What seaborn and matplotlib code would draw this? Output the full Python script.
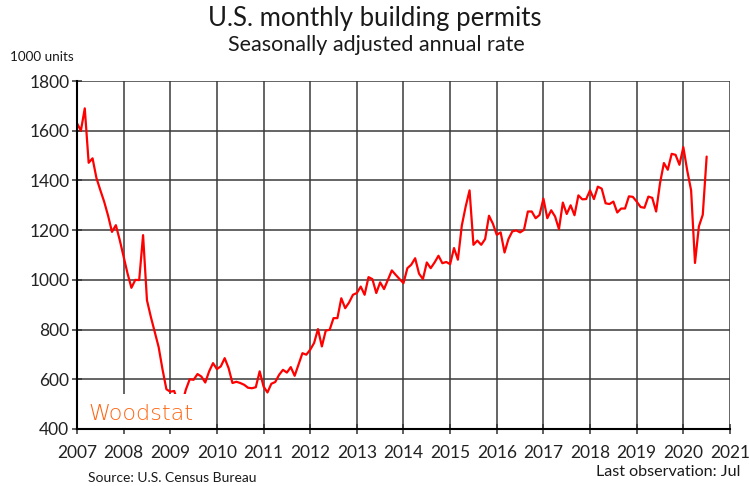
import matplotlib
matplotlib.use("Agg")
import matplotlib.pyplot as plt
from matplotlib.patches import Rectangle
import seaborn as sns
import numpy as np
import pandas as pd

# monthly permits, 1000 units SAAR, Jan..Dec
p2007 = [1630, 1600, 1690, 1471, 1489, 1410, 1361, 1314, 1258, 1193, 1220, 1160]
p2008 = [1093, 1026, 968, 1000, 999, 1180, 918, 851, 791, 730, 640, 560]
p2009 = [550, 553, 505, 500, 558, 600, 598, 621, 611, 587, 632, 665]
p2010 = [641, 652, 685, 645, 585, 590, 585, 578, 566, 564, 568, 632]
p2011 = [571, 547, 582, 589, 618, 638, 627, 649, 614, 660, 705, 699]
p2012 = [719, 746, 802, 732, 796, 799, 846, 846, 926, 886, 909, 940]
p2013 = [947, 973, 940, 1011, 1003, 947, 990, 963, 1000, 1038, 1020, 1003]
p2014 = [987, 1047, 1061, 1087, 1025, 1003, 1070, 1047, 1070, 1097, 1067, 1072]
p2015 = [1063, 1128, 1081, 1218, 1295, 1360, 1141, 1158, 1141, 1164, 1258, 1226]
p2016 = [1181, 1191, 1110, 1164, 1195, 1199, 1191, 1201, 1275, 1275, 1248, 1261]
p2017 = [1327, 1248, 1280, 1255, 1204, 1311, 1265, 1300, 1260, 1340, 1324, 1325]
p2018 = [1360, 1325, 1375, 1367, 1308, 1305, 1315, 1271, 1287, 1287, 1336, 1334]
p2019 = [1315, 1293, 1290, 1335, 1330, 1275, 1389, 1470, 1443, 1507, 1503, 1463]
p2020 = [1534, 1440, 1360, 1068, 1215, 1262, 1496]

year_ticks = list(range(2007, 2022))
y_ticks = [400, 600, 800, 1000, 1200, 1400, 1600, 1800]

permits = p2007 + p2008 + p2009 + p2010 + p2011 + p2012 + p2013 + p2014 \
    + p2015 + p2016 + p2017 + p2018 + p2019 + p2020
df = pd.DataFrame({'time': 2007 + np.arange(len(permits)) / 12.0,
                   'permits': permits})

sns.set_theme(style="ticks")
plt.rcParams['font.family'] = ['Lato', 'DejaVu Sans']

fig = plt.figure(figsize=(7.49, 4.86), dpi=100)
ax = fig.add_axes([0.1028, 0.1173, 0.8718, 0.716])

sns.lineplot(data=df, x='time', y='permits', color='#ff0000', linewidth=1.6, ax=ax, zorder=3)

ax.set_xlim(2007, 2021)
ax.set_ylim(400, 1800)
ax.set_xticks(year_ticks)
ax.set_yticks(y_ticks)
ax.set_xlabel('')
ax.set_ylabel('')
ax.grid(True, color='#3a3a3a', linewidth=1.1)
ax.set_axisbelow(True)
for s in ['top', 'right']:
    ax.spines[s].set_visible(False)
for s in ['left', 'bottom']:
    ax.spines[s].set_color('black')
    ax.spines[s].set_linewidth(1.5)
    ax.spines[s].set_zorder(6)
ax.tick_params(axis='both', direction='inout', length=7, width=1.1, color='#333333',
               labelsize=12.5, labelcolor='#222222')
ax.tick_params(axis='x', pad=8)
ax.tick_params(axis='y', pad=2)

# white logo panel in the lower left corner, drawn over grid and line
ax.add_patch(Rectangle((0.004, 0.004), 0.197, 0.097, transform=ax.transAxes,
                       facecolor='white', edgecolor='none', zorder=4))
ax.text(0.017, 0.042, 'Woodstat', transform=ax.transAxes, fontsize=16,
        color='#ff6410', family='DejaVu Sans', fontweight='light',
        ha='left', va='center', zorder=5)

fig.text(0.5, 0.962, 'U.S. monthly building permits', ha='center', va='center',
         fontsize=18.5, color='#1a1a1a')
fig.text(0.502, 0.907, 'Seasonally adjusted annual rate', ha='center', va='center',
         fontsize=15.5, color='#1a1a1a')
fig.text(0.013, 0.883, '1000 units', ha='left', va='center', fontsize=9.7, color='#1a1a1a')
fig.text(0.117, 0.017, 'Source: U.S. Census Bureau', ha='left', va='center',
         fontsize=10, color='#1a1a1a')
fig.text(0.988, 0.029, 'Last observation: Jul', ha='right', va='center',
         fontsize=11.6, color='#1a1a1a')

fig.savefig('out.png', dpi=100)
